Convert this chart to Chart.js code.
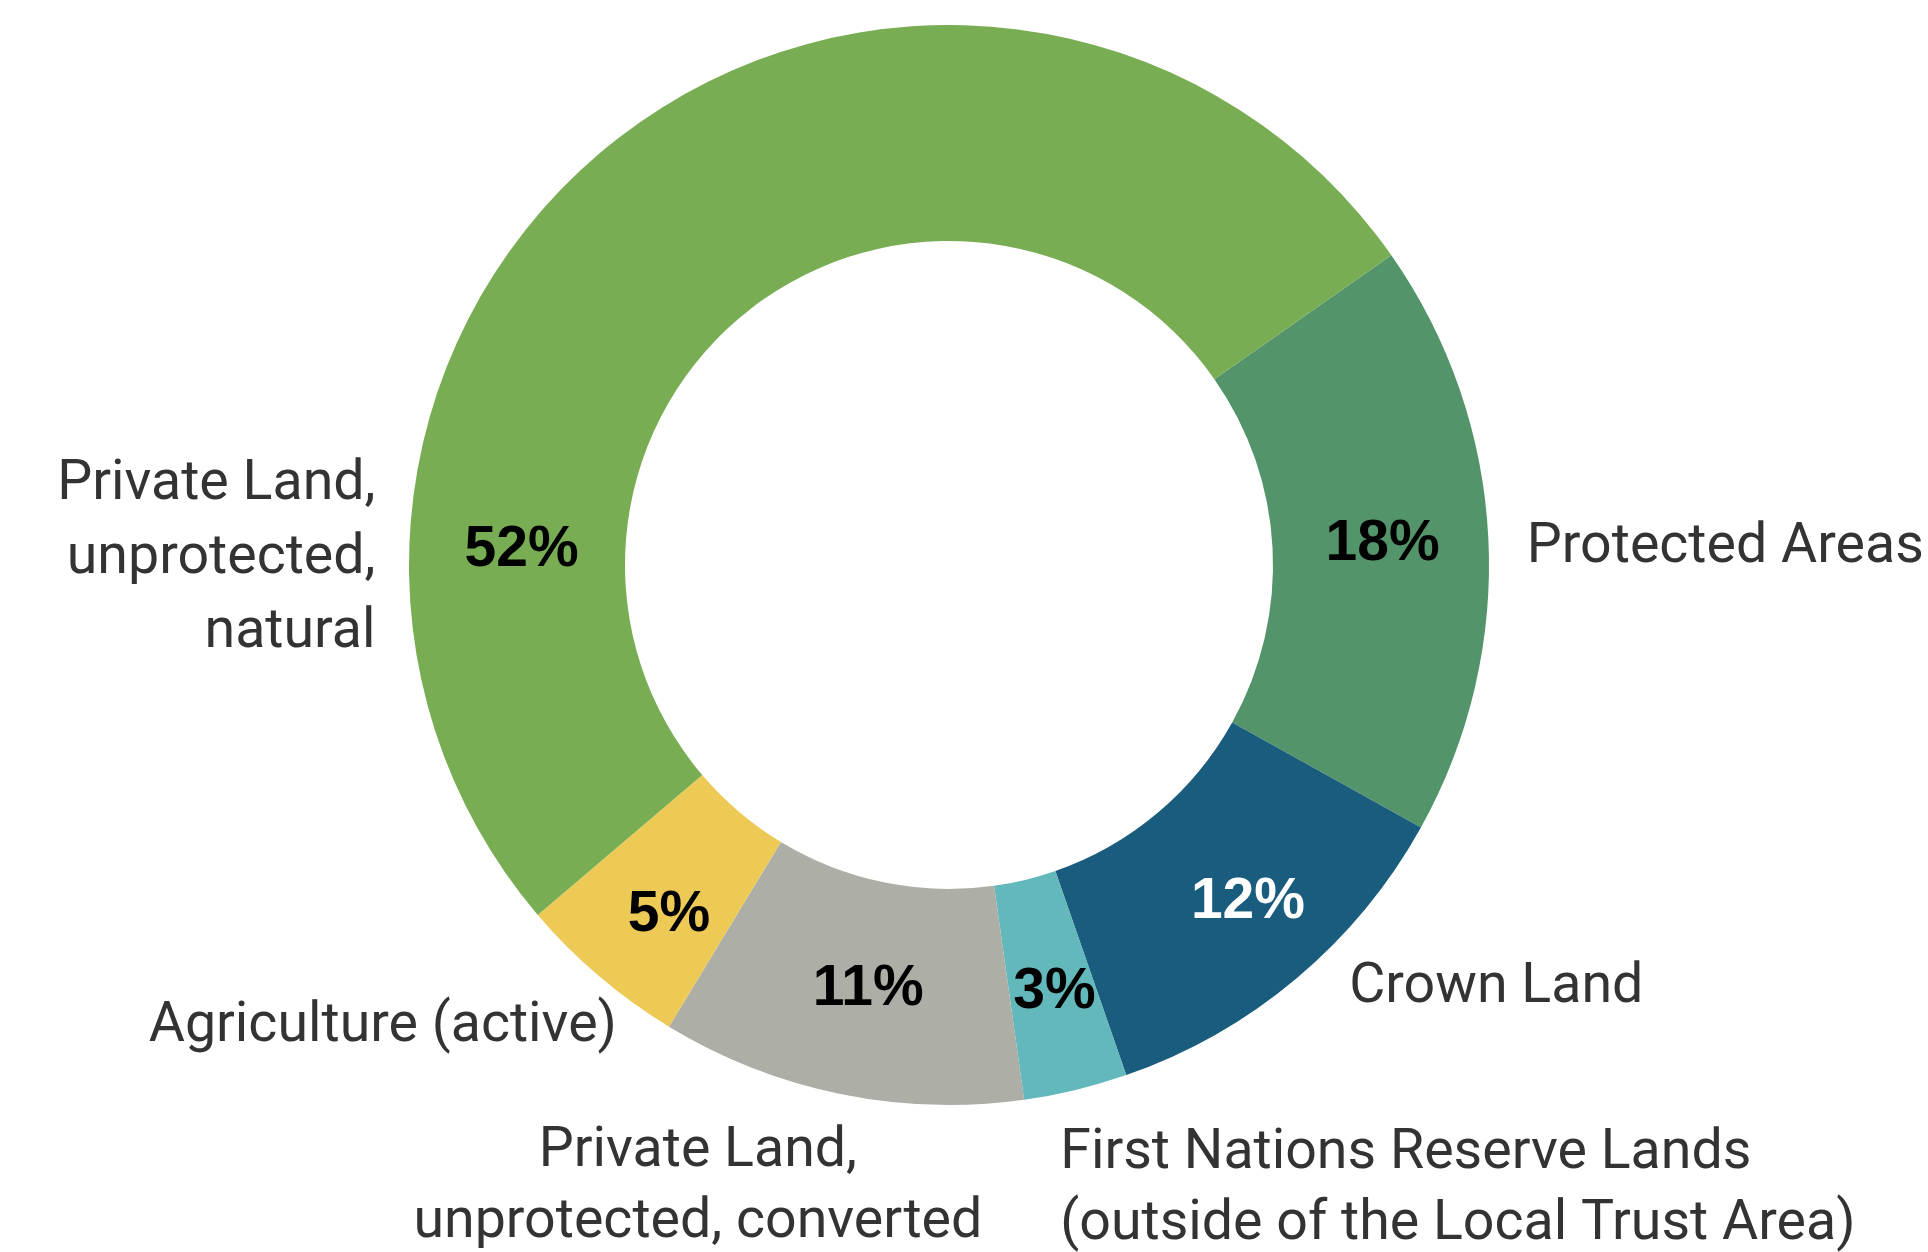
<!DOCTYPE html>
<html>
<head>
<meta charset="utf-8">
<script src="https://cdn.jsdelivr.net/npm/chart.js@4"></script>
<style>
  html, body { margin: 0; padding: 0; background: #ffffff; }
  #wrap { width: 1928px; height: 1252px; position: relative; }
</style>
</head>
<body>
<div id="wrap"><canvas id="c"></canvas></div>
<script>
// ---- data (clockwise from the top-right) ----
const categories = [
  "Protected Areas",
  "Crown Land",
  "First Nations Reserve Lands (outside of the Local Trust Area)",
  "Private Land, unprotected, converted",
  "Agriculture (active)",
  "Private Land, unprotected, natural"
];
const shares = [17.8, 11.6, 3.1, 10.9, 5.1, 51.5];
const labelLines = [
  ["Protected Areas"],
  ["Crown Land"],
  ["First Nations Reserve Lands", "(outside of the Local Trust Area)"],
  ["Private Land,", "unprotected, converted"],
  ["Agriculture (active)"],
  ["Private Land,", "unprotected,", "natural"]
];
const colors = ["#53946a", "#1a5c7e", "#62b8bb", "#adaea6", "#edca56", "#79ad53"];
const pctColors = ["#000000", "#ffffff", "#000000", "#000000", "#000000", "#000000"];

// label placement (styling, not data)
const pctAngleFrac = [0.50, 0.46, 0.47, 0.48, 0.41, 0.23];
const pctRadiusFrac = [0.51, 0.58, 0.53, 0.49, 0.57, 0.48];
// outer label anchors relative to centre, in units of outer radius
const outerLabelPos = [
  { kx: 1.070, ky: -0.006, align: "left", lh: 72 },
  { kx: 0.741, ky: 0.809, align: "left", lh: 72 },
  { kx: 0.206, ky: 1.117, align: "left", lh: 71 },
  { kx: -0.465, ky: 1.113, align: "center", lh: 71 },
  { kx: -0.615, ky: 0.881, align: "right", lh: 72 },
  { kx: -1.062, ky: -0.122, align: "right", lh: 74 }
];

const labelPlugin = {
  id: "donutLabels",
  afterDatasetsDraw(chart) {
    const ctx = chart.ctx;
    const meta = chart.getDatasetMeta(0);
    ctx.save();
    meta.data.forEach((arc, i) => {
      const p = arc.getProps(["x", "y", "startAngle", "endAngle", "innerRadius", "outerRadius"], true);
      const a = p.startAngle + (p.endAngle - p.startAngle) * pctAngleFrac[i];
      const r = p.innerRadius + (p.outerRadius - p.innerRadius) * pctRadiusFrac[i];
      const lx = p.x + r * Math.cos(a);
      const ly = p.y + r * Math.sin(a);
      ctx.font = "bold 57px 'Liberation Sans', Arial, sans-serif";
      ctx.fillStyle = pctColors[i];
      ctx.textAlign = "center";
      ctx.textBaseline = "middle";
      ctx.fillText(Math.round(shares[i]) + "%", lx, ly + 2);

      const o = outerLabelPos[i];
      const ox = p.x + o.kx * p.outerRadius;
      const oy = p.y + o.ky * p.outerRadius;
      ctx.font = "55.5px Roboto, 'Noto Sans', sans-serif";
      ctx.fillStyle = "#333333";
      ctx.textAlign = o.align;
      ctx.textBaseline = "alphabetic";
      labelLines[i].forEach((line, j) => {
        ctx.fillText(line, ox, oy + j * o.lh);
      });
    });
    ctx.restore();
  }
};

new Chart(document.getElementById("c"), {
  type: "doughnut",
  data: {
    labels: categories,
    datasets: [{
      data: shares,
      backgroundColor: colors,
      borderWidth: 0,
      hoverOffset: 0
    }]
  },
  options: {
    responsive: true,
    maintainAspectRatio: false,
    animation: false,
    rotation: 55,
    cutout: "60%",
    layout: { padding: { left: 300, right: 330, top: 25, bottom: 147 } },
    plugins: {
      legend: { display: false },
      tooltip: { enabled: false }
    },
    events: []
  },
  plugins: [labelPlugin]
});
</script>
</body>
</html>
